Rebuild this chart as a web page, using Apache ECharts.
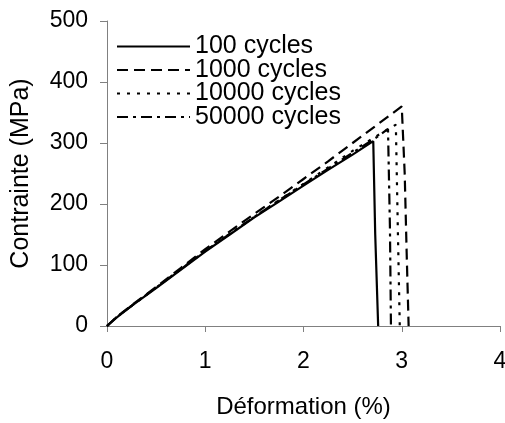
<!DOCTYPE html>
<html>
<head>
<meta charset="UTF-8">
<script src="https://cdn.jsdelivr.net/npm/echarts@6/dist/echarts.min.js"></script>
<style>
    html, body { margin: 0; padding: 0; background: #fff; }
    #main { width: 505px; height: 423px; }
</style>
</head>
<body>
<div id="main"></div>
<script>
    // courbes contrainte-deformation
    var seriesNames = ['100 cycles', '1000 cycles', '10000 cycles', '50000 cycles'];

    var strain100 = [0, 0.1, 0.25, 0.5, 0.75, 1.0, 1.25, 1.5, 1.75, 2.0, 2.25, 2.5, 2.71, 2.73, 2.76];
    var stress100 = [0, 14, 33, 62, 92, 122, 150, 178, 204, 230, 256, 281, 303, 150, 0];

    var strain1000 = [0, 0.1, 0.25, 0.5, 0.75, 1.0, 1.25, 1.5, 1.75, 2.0, 2.25, 2.5, 2.75, 3.0, 3.03, 3.05, 3.07];
    var stress1000 = [0, 15, 34, 64, 95, 126, 155, 184, 212, 241, 270, 300, 330, 360, 250, 120, 0];

    var strain10000 = [0, 0.1, 0.25, 0.5, 0.75, 1.0, 1.25, 1.5, 1.75, 2.0, 2.25, 2.5, 2.75, 2.94, 2.96, 2.98];
    var stress10000 = [0, 15, 33, 63, 93, 123, 151, 179, 206, 233, 260, 287, 312, 330, 160, 0];

    var strain50000 = [0, 0.1, 0.25, 0.5, 0.75, 1.0, 1.25, 1.5, 1.75, 2.0, 2.25, 2.5, 2.75, 2.86, 2.88, 2.89];
    var stress50000 = [0, 15, 33, 63, 93, 123, 151, 179, 206, 232, 258, 284, 310, 323, 160, 0];

    var dashTypes = ['solid', [11, 6], [3, 7], [11, 5, 3, 5]];

    function pairs(xs, ys) {
        var out = [];
        for (let i = 0; i < xs.length; i++) {
            out.push([xs[i], ys[i]]);
        }
        return out;
    }

    var allData = [
        pairs(strain100, stress100),
        pairs(strain1000, stress1000),
        pairs(strain10000, stress10000),
        pairs(strain50000, stress50000)
    ];

    var font = 'Liberation Sans, Arial, sans-serif';

    var series = [];
    for (let i = 0; i < seriesNames.length; i++) {
        series.push({
            name: seriesNames[i],
            type: 'line',
            data: allData[i],
            symbol: 'none',
            lineStyle: {color: '#000', width: 2.2, type: dashTypes[i]},
            itemStyle: {color: '#000'}
        });
    }

    var chart = echarts.init(document.getElementById('main'));
    chart.setOption({
        animation: false,
        grid: {left: 107, right: 5, top: 21, bottom: 97, outerBoundsMode: 'none'},
        legend: {
            orient: 'vertical',
            left: 111,
            top: 29,
            itemWidth: 73,
            itemHeight: 12,
            itemGap: -1.5,
            itemStyle: {opacity: 0},
            lineStyle: {width: 2},
            textStyle: {fontFamily: font, fontSize: 25, color: '#000'},
            data: seriesNames
        },
        xAxis: {
            type: 'value',
            min: 0,
            max: 4,
            interval: 1,
            name: 'Déformation (%)',
            nameLocation: 'middle',
            nameGap: 69,
            nameTextStyle: {fontFamily: font, fontSize: 24, color: '#000'},
            axisLine: {lineStyle: {color: '#808080', width: 1}},
            axisTick: {show: true, length: 6, lineStyle: {color: '#808080'}},
            axisLabel: {fontFamily: font, fontSize: 23, color: '#000', margin: 24},
            splitLine: {show: false}
        },
        yAxis: {
            type: 'value',
            min: 0,
            max: 500,
            interval: 100,
            name: 'Contrainte (MPa)',
            nameLocation: 'middle',
            nameGap: 73,
            nameTextStyle: {fontFamily: font, fontSize: 25, color: '#000'},
            axisLine: {show: true, lineStyle: {color: '#808080', width: 1}},
            axisTick: {show: true, length: 7, lineStyle: {color: '#808080'}},
            axisLabel: {fontFamily: font, fontSize: 23, color: '#000', margin: 19},
            splitLine: {show: false}
        },
        series: series
    });
</script>
</body>
</html>
